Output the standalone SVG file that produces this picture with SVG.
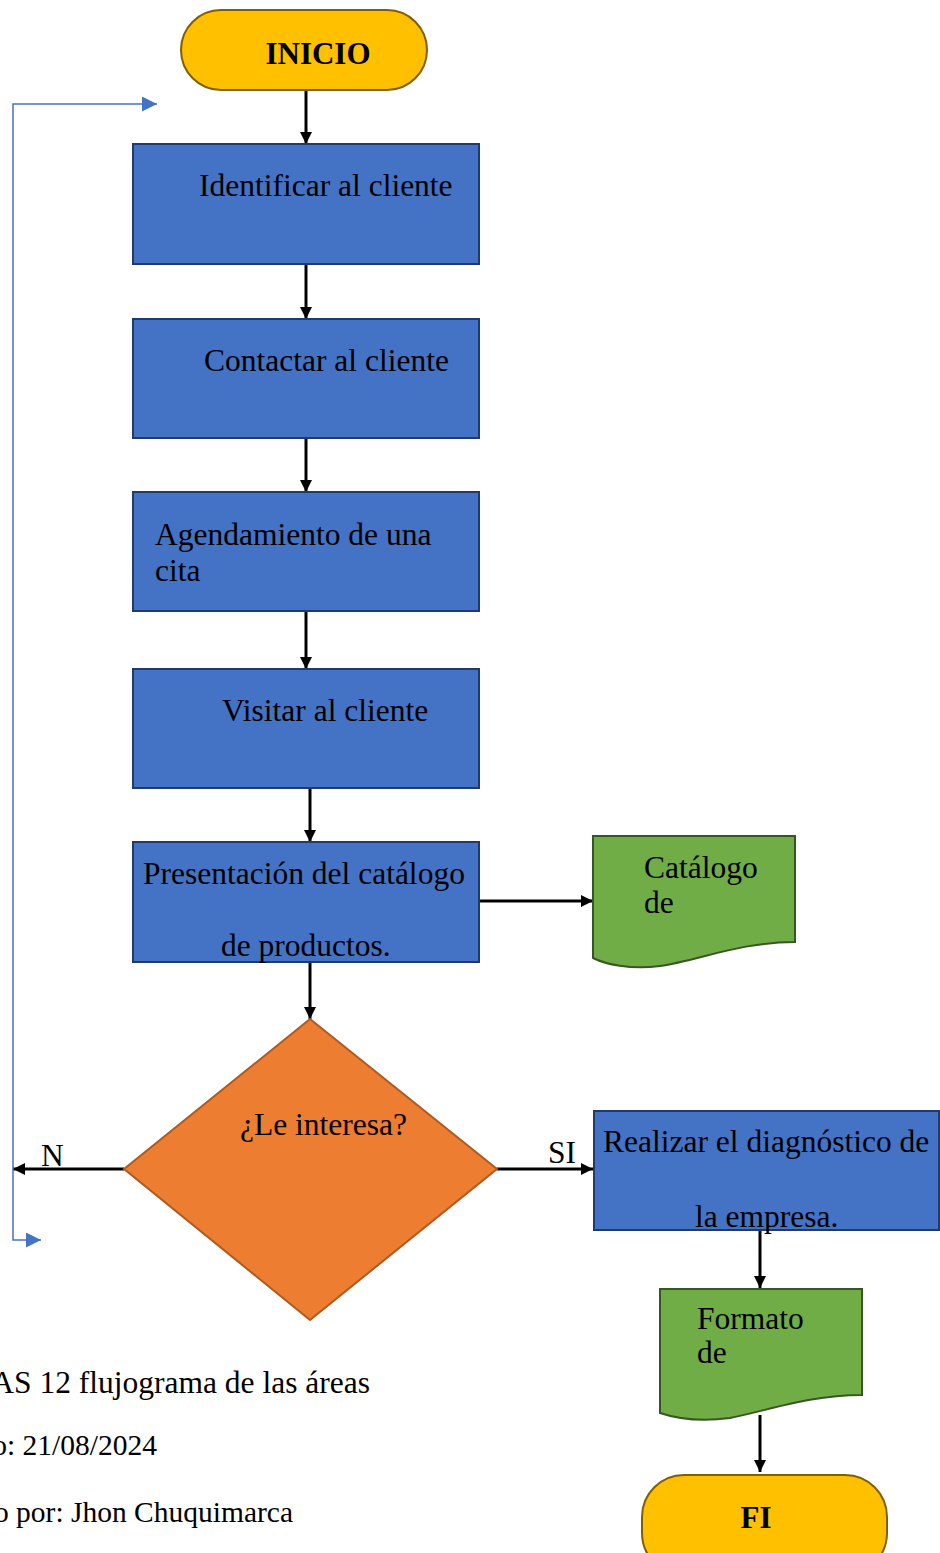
<svg xmlns="http://www.w3.org/2000/svg" width="940" height="1553" viewBox="0 0 940 1553">
<style>
text{font-family:"Liberation Serif","Times New Roman",serif;font-size:31.5px;fill:#000}
.b{font-weight:bold;font-size:31px}
.cap{font-size:29.5px}
.term{fill:#FFC000;stroke:#7F6000;stroke-width:2}
.proc{fill:#4472C4;stroke:#1F3A6E;stroke-width:2}
.doc{fill:#70AD47;stroke:#375623;stroke-width:2}
.dec{fill:#ED7D31;stroke:#AE5A21;stroke-width:2}
.c{fill:none;stroke:#000;stroke-width:3;marker-end:url(#ah)}
.bl{fill:none;stroke:#4472C4;stroke-width:1.5}
</style>
<defs>
<marker id="ah" viewBox="0 0 10 10" refX="10" refY="5" markerWidth="4" markerHeight="4" orient="auto" markerUnits="strokeWidth"><path d="M0,0L10,5L0,10Z" fill="#000"/></marker>
<marker id="bh" viewBox="0 0 10 10" refX="10" refY="5" markerWidth="10" markerHeight="10" orient="auto" markerUnits="strokeWidth"><path d="M0,0L10,5L0,10Z" fill="#4472C4"/></marker>
</defs>
<rect width="940" height="1553" fill="#fff"/>
<g id="connectors">
<line class="c" x1="306" y1="90" x2="306" y2="144"/>
<line class="c" x1="306" y1="264" x2="306" y2="319"/>
<line class="c" x1="306" y1="438" x2="306" y2="492"/>
<line class="c" x1="306" y1="611" x2="306" y2="669"/>
<line class="c" x1="310" y1="788" x2="310" y2="842"/>
<line class="c" x1="479" y1="901" x2="593" y2="901"/>
<line class="c" x1="310" y1="962" x2="310" y2="1019"/>
<line class="c" x1="124" y1="1169" x2="13" y2="1169"/>
<line class="c" x1="497" y1="1169" x2="593" y2="1169"/>
<line class="c" x1="760" y1="1230" x2="760" y2="1288"/>
<line class="c" x1="760" y1="1415" x2="760" y2="1472"/>
<polyline class="bl" points="13,1200 13,104 157,104" marker-end="url(#bh)"/>
<polyline class="bl" points="13,1200 13,1240 41,1240" marker-end="url(#bh)"/>
<text x="41" y="1166">N</text>
<text x="548" y="1163">SI</text>
</g>
<g id="inicio"><rect class="term" x="181" y="10" width="246" height="80" rx="40"/><text class="b" x="318" y="64" text-anchor="middle">INICIO</text></g>
<g id="identificar"><rect class="proc" x="133" y="144" width="346" height="120"/><text x="199" y="196">Identificar al cliente</text></g>
<g id="contactar"><rect class="proc" x="133" y="319" width="346" height="119"/><text x="204" y="371">Contactar al cliente</text></g>
<g id="agendamiento"><rect class="proc" x="133" y="492" width="346" height="119"/><text x="155" y="545">Agendamiento de una</text><text x="155" y="581">cita</text></g>
<g id="visitar"><rect class="proc" x="133" y="669" width="346" height="119"/><text x="222" y="721">Visitar al cliente</text></g>
<g id="presentacion"><rect class="proc" x="133" y="842" width="346" height="120"/><text x="143" y="884">Presentación del catálogo</text><text x="221" y="956">de productos.</text></g>
<g id="catalogo"><path class="doc" d="M593,836H795V942C740,942 700,960 660,966C630,970 605,964 593,958Z"/><text x="644" y="878">Catálogo</text><text x="644" y="913">de</text></g>
<g id="interesa"><path class="dec" d="M310,1019L497,1169L310,1320L124,1169Z"/><text x="240" y="1135">¿Le interesa?</text></g>
<g id="diagnostico"><rect class="proc" x="594" y="1111" width="345" height="119"/><text x="603" y="1152">Realizar el diagnóstico de</text><text x="695" y="1227">la empresa.</text></g>
<g id="formato"><path class="doc" d="M660,1289H862V1395C810,1395 770,1410 730,1418C700,1422 675,1418 660,1413Z"/><text x="697" y="1329">Formato</text><text x="697" y="1363">de</text></g>
<g id="fin"><rect class="term" x="642" y="1475" width="245" height="100" rx="42"/><text class="b" x="756" y="1528" text-anchor="middle">FI</text></g>
<g id="caption">
<text x="370" y="1393" text-anchor="end">AS 12 flujograma de las áreas</text>
<text class="cap" x="157" y="1455" text-anchor="end">o: 21/08/2024</text>
<text class="cap" x="293" y="1522" text-anchor="end">o por: Jhon Chuquimarca</text>
</g>
</svg>
